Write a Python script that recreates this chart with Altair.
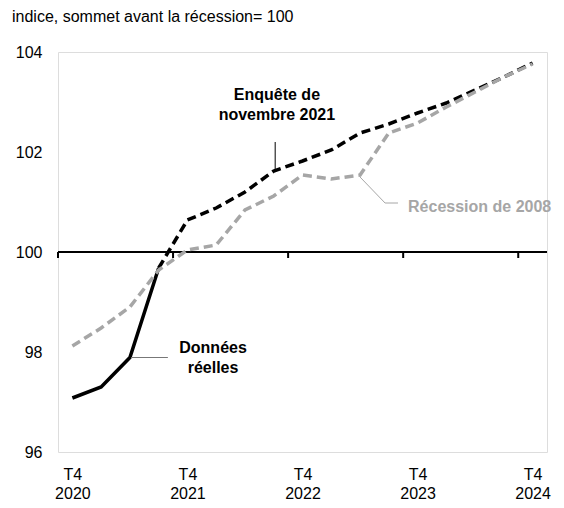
import altair as alt
import pandas as pd

FONT = "Liberation Sans"
GRAY = "#a6a6a6"

# quarter index 0 = T4 2020 ... 16 = T4 2024
reel_q = [0, 1, 2, 3]
reel_v = [97.08, 97.30, 97.89, 99.68]

enq_q = list(range(3, 17))
enq_v = [99.68, 100.64, 100.88, 101.20, 101.62, 101.82, 102.04, 102.38,
         102.56, 102.78, 102.98, 103.24, 103.50, 103.78]

rec_q = list(range(0, 17))
rec_v = [98.12, 98.48, 98.90, 99.64, 100.04, 100.14, 100.84, 101.12,
         101.54, 101.46, 101.54, 102.38, 102.58, 102.90, 103.20, 103.50, 103.76]

tick_vals = [0, 4, 8, 12, 16]
tick_years = ["2020", "2021", "2022", "2023", "2024"]
sep_vals = [-0.5, 3.5, 7.5, 11.5, 15.5]
y_vals = [96, 98, 100, 102, 104]

title_text = "indice, sommet avant la récession= 100"

ann_text = ["Enquête de", "novembre 2021", "Données", "réelles"]
ann_x = [7.11, 7.11, 4.89, 4.89]
ann_y = [103.14, 102.74, 98.08, 97.68]

rec_label = "Récession de 2008"
rec_label_x = 11.67
rec_label_y = 100.90

lead_enq_x = [7.05, 7.05]
lead_enq_y = [102.20, 101.64]
lead_reel_x = [2.04, 3.32]
lead_reel_y = [97.89, 97.89]
lead_rec_x = [10.0, 10.87, 11.32]
lead_rec_y = [101.50, 100.98, 100.98]

df_reel = pd.DataFrame({"q": reel_q, "v": reel_v})
df_enq = pd.DataFrame({"q": enq_q, "v": enq_v})
df_rec = pd.DataFrame({"q": rec_q, "v": rec_v})

expr = " : ".join(
    f"datum.value == {v} ? ['T4', '{y}']" for v, y in zip(tick_vals, tick_years)
) + " : ''"

xscale = alt.Scale(domain=[-0.5, 16.5], nice=False, zero=False)
yscale = alt.Scale(domain=[96, 104], nice=False, zero=False)

xax = alt.Axis(values=tick_vals, labelExpr=expr, domain=False, ticks=False, tickSize=0,
               grid=False, labelFont=FONT, labelFontSize=16, labelColor="#000",
               labelPadding=14, labelLineHeight=19, title=None, labelFlush=False,
               labelOverlap=False)
yax = alt.Axis(values=y_vals, domain=False, ticks=False, tickSize=0, grid=False,
               labelFont=FONT, labelFontSize=16, labelColor="#000", labelPadding=16,
               title=None, labelFlush=False)

X = lambda f: alt.X(f, type="quantitative", scale=xscale, axis=xax)
Y = lambda f: alt.Y(f, type="quantitative", scale=yscale, axis=yax)

zero = alt.Chart(pd.DataFrame({"x1": [sep_vals[0]], "x2": [16.5], "y": [100]})).mark_rule(
    color="#000", strokeWidth=2).encode(x=X("x1:Q"), x2="x2:Q", y=Y("y:Q"))

ticks = alt.Chart(pd.DataFrame({"x": sep_vals, "y1": [100] * 5, "y2": [99.88] * 5})).mark_rule(
    color="#000", strokeWidth=2).encode(x=X("x:Q"), y=Y("y1:Q"), y2="y2:Q")

reel = alt.Chart(df_reel).mark_line(color="#000", strokeWidth=3.5, strokeJoin="miter").encode(
    x=X("q:Q"), y=Y("v:Q"))
enq = alt.Chart(df_enq).mark_line(color="#000", strokeWidth=3.5, strokeDash=[9, 5]).encode(
    x=X("q:Q"), y=Y("v:Q"))
rec = alt.Chart(df_rec).mark_line(color=GRAY, strokeWidth=3.5, strokeDash=[9, 5]).encode(
    x=X("q:Q"), y=Y("v:Q"))

l1 = alt.Chart(pd.DataFrame({"x": lead_enq_x, "y": lead_enq_y})).mark_line(
    color="#000", strokeWidth=1).encode(x=X("x:Q"), y=Y("y:Q"))
l2 = alt.Chart(pd.DataFrame({"x": lead_reel_x, "y": lead_reel_y})).mark_line(
    color="#777", strokeWidth=1).encode(x=X("x:Q"), y=Y("y:Q"))
l3 = alt.Chart(pd.DataFrame({"x": lead_rec_x, "y": lead_rec_y, "o": [0, 1, 2]})).mark_line(
    color=GRAY, strokeWidth=1).encode(x=X("x:Q"), y=Y("y:Q"), order="o:O")

ann = alt.Chart(pd.DataFrame({"t": ann_text, "x": ann_x, "y": ann_y})).mark_text(
    font=FONT, fontSize=16, fontWeight="bold", color="#000", align="center",
    baseline="middle").encode(x=X("x:Q"), y=Y("y:Q"), text="t:N")

ann_rec = alt.Chart(pd.DataFrame({"t": [rec_label], "x": [rec_label_x], "y": [rec_label_y]})).mark_text(
    font=FONT, fontSize=16, fontWeight="bold", color=GRAY, align="left",
    baseline="middle").encode(x=X("x:Q"), y=Y("y:Q"), text="t:N")

title = alt.Chart(pd.DataFrame({"t": [title_text]})).mark_text(
    font=FONT, fontSize=16, color="#000", align="left", baseline="middle").encode(
    x=alt.value(-46), y=alt.value(-35), text="t:N")

chart = alt.layer(zero, ticks, reel, enq, rec, l1, l2, l3, ann, ann_rec, title).properties(
    width=489, height=400,
    autosize=alt.AutoSizeParams(type="none"),
    padding={"left": 50, "top": 44, "right": 9, "bottom": 48},
).configure_view(stroke=None).configure(background="#ffffff")

chart.save("out.html", embed_options={"renderer": "svg", "actions": False})
